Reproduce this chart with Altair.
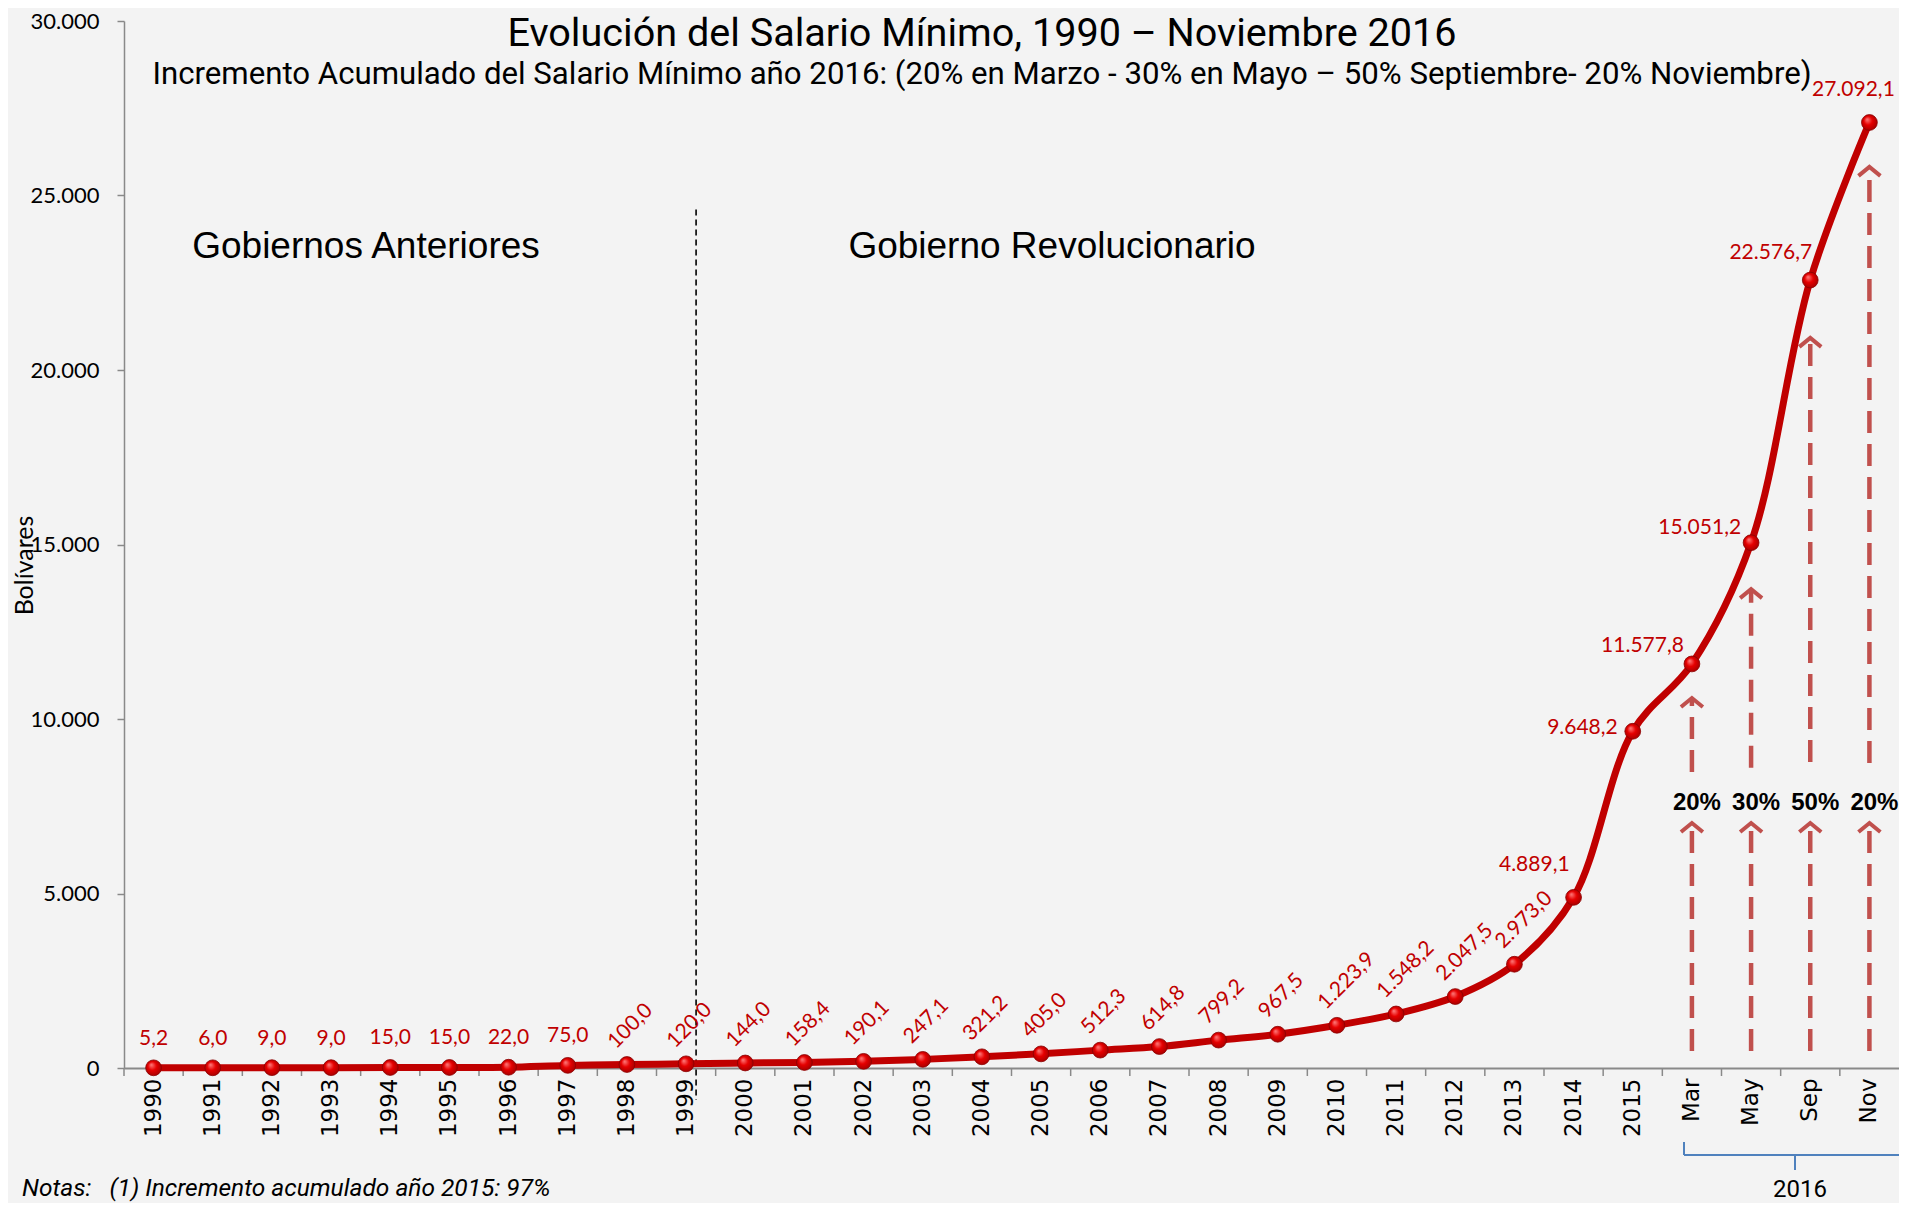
import altair as alt
import pandas as pd

# ---------------- data ----------------
categorias = ["1990", "1991", "1992", "1993", "1994", "1995", "1996", "1997", "1998", "1999",
              "2000", "2001", "2002", "2003", "2004", "2005", "2006", "2007", "2008", "2009",
              "2010", "2011", "2012", "2013", "2014", "2015", "Mar", "May", "Sep", "Nov"]
salario = [5.2, 6.0, 9.0, 9.0, 15.0, 15.0, 22.0, 75.0, 100.0, 120.0,
           144.0, 158.4, 190.1, 247.1, 321.2, 405.0, 512.3, 614.8, 799.2, 967.5,
           1223.9, 1548.2, 2047.5, 2973.0, 4889.1, 9648.2, 11577.8, 15051.2, 22576.7, 27092.1]

meses_2016 = ["Mar", "May", "Sep", "Nov"]
incrementos = ["20%", "30%", "50%", "20%"]
flecha_inf_desde = [490, 490, 490, 490]
flecha_inf_hasta = [7020, 7020, 7020, 7020]
flecha_sup_desde = [8480, 8600, 8770, 8740]
flecha_sup_hasta = [10600, 13720, 20920, 25820]
nivel_etiqueta_pct = [7590, 7590, 7590, 7590]

divisor_cat = ["1999"]
divisor_tope = [24600]

titulo = "Evolución del Salario Mínimo, 1990 – Noviembre 2016"
subtitulo = ("Incremento Acumulado del Salario Mínimo año 2016: (20% en Marzo - 30% en Mayo – "
             "50% Septiembre- 20% Noviembre)")
nota = "Notas:\u00a0\u00a0\u00a0(1) Incremento acumulado año 2015: 97%"


def fmt_es(v):
    s = f"{v:,.1f}"
    return s.replace(",", "X").replace(".", ",").replace("X", ".")


df = pd.DataFrame({
    "cat": categorias,
    "valor": salario,
    "etiqueta": [fmt_es(v) for v in salario],
    "i": list(range(len(categorias))),
})

flechas = pd.DataFrame({
    "cat": meses_2016,
    "inf0": flecha_inf_desde,
    "inf1": flecha_inf_hasta,
    "sup0": flecha_sup_desde,
    "sup1": flecha_sup_hasta,
    "pct": incrementos,
    "ylab": nivel_etiqueta_pct,
})

divisor = pd.DataFrame({"cat": divisor_cat, "tope": divisor_tope})

# ---------------- layout ----------------
W = 1775
H = 1047
RED = "#C00000"
ARROW = "#C0504D"
LABEL_FONT = "Lato"
NARROW = "Roboto"

xscale = alt.Scale(type="band", domain=categorias, paddingInner=0, paddingOuter=0)
yscale = alt.Scale(domain=[0, 30000], nice=False, zero=True)

xaxis = alt.Axis(title=None, labelAngle=270, labelFont="DejaVu Sans", labelFontSize=23,
                 labelColor="black", ticks=False, labelPadding=10, domainColor="#898989",
                 domainWidth=2, grid=False, labelOverlap=False)
yaxis = alt.Axis(title="Bolívares", values=[0, 5000, 10000, 15000, 20000, 25000, 30000],
                 labelExpr="replace(format(datum.value, ','), ',', '.')",
                 labelFont=LABEL_FONT, labelFontSize=22, labelColor="black",
                 tickSize=7, tickColor="#898989", tickWidth=1.5, labelPadding=18,
                 domainColor="#898989", domainWidth=1.5, grid=False,
                 titleFont=LABEL_FONT, titleFontSize=25, titleFontWeight="normal",
                 titleColor="black", titleAngle=270, titleX=-100, titleY=544,
                 titleAlign="center", titleBaseline="middle")


def X(field="cat", **kw):
    return alt.X(f"{field}:N", scale=xscale, axis=xaxis, sort=categorias, **kw)


def Y(field):
    return alt.Y(f"{field}:Q", scale=yscale, axis=yaxis)


base = alt.Chart(df)

linea = base.mark_line(color=RED, strokeWidth=7, interpolate="catmull-rom").encode(
    x=X(), y=Y("valor"))

puntos = base.mark_point(
    filled=True, size=250, opacity=1, stroke="#8a0000", strokeWidth=0.8,
    fill=alt.RadialGradient(gradient="radial", x1=0.35, y1=0.3, r1=0.0,
                            x2=0.5, y2=0.5, r2=0.6,
                            stops=[alt.GradientStop(color="#ff8080", offset=0),
                                   alt.GradientStop(color="#e60000", offset=0.45),
                                   alt.GradientStop(color="#990000", offset=1)])
).encode(x=X(), y=Y("valor"))

# ticks between categories on the x axis
marcas = base.mark_rule(color="#898989", strokeWidth=1.5).encode(
    x=X(bandPosition=0), y=alt.value(H), y2=alt.value(H + 8))

# labels
etq_h = base.transform_filter("datum.i <= 7").mark_text(
    font=LABEL_FONT, fontSize=21, color=RED, align="center", baseline="middle", yOffset=-29
).encode(x=X(), y=Y("valor"), text="etiqueta:N")

etq_rot = base.transform_filter("datum.i >= 8 && datum.i <= 23").mark_text(
    font=LABEL_FONT, fontSize=21, color=RED, align="left", baseline="alphabetic",
    angle=315, xOffset=-11, yOffset=-15
).encode(x=X(), y=Y("valor"), text="etiqueta:N")

ajustes = {"2014": (-4, -32, "right"), "2015": (-15, -3, "right"), "Mar": (-8, -18, "right"),
           "May": (-10, -15, "right"), "Sep": (2, -27, "right"), "Nov": (-16, -32, "center")}
etq_der = []
for c, (dx, dy, al) in ajustes.items():
    etq_der.append(base.transform_filter(f"datum.cat == '{c}'").mark_text(
        font=LABEL_FONT, fontSize=21, color=RED, align=al, baseline="middle",
        xOffset=dx, yOffset=dy
    ).encode(x=X(), y=Y("valor"), text="etiqueta:N"))

# divider
div = alt.Chart(divisor).mark_rule(color="black", strokeWidth=1.6, strokeDash=[6, 4],
                                   xOffset=10).encode(
    x=X(), y=Y("tope"), y2=alt.value(H + 32))

# arrows
fb = alt.Chart(flechas)
inf = fb.mark_rule(color=ARROW, strokeWidth=4.5, strokeDash=[22, 11]).encode(
    x=X(), y=Y("inf0"), y2="inf1:Q")
sup = fb.mark_rule(color=ARROW, strokeWidth=4.5, strokeDash=[22, 11]).encode(
    x=X(), y=Y("sup0"), y2="sup1:Q")
cabeza = "M-1,0.82L0,0L1,0.82"
punta_inf = fb.mark_point(shape=cabeza, size=480, filled=False, color=ARROW,
                          strokeWidth=4, opacity=1).encode(x=X(), y=Y("inf1"))
punta_sup = fb.mark_point(shape=cabeza, size=480, filled=False, color=ARROW,
                          strokeWidth=4, opacity=1).encode(x=X(), y=Y("sup1"))
pct = fb.mark_text(font="Liberation Sans", fontWeight="bold", fontSize=24, color="black",
                   align="center", baseline="middle", xOffset=5).encode(
    x=X(), y=Y("ylab"), text="pct:N")

# text annotations
def texto(t, x, y, **kw):
    return alt.Chart(pd.DataFrame({"t": [t]})).mark_text(**kw).encode(
        x=alt.value(x), y=alt.value(y), text="t:N")


t1 = texto(titulo, 858, 25, font=NARROW, fontSize=39.6, color="black", align="center",
           baseline="alphabetic")
t2 = texto(subtitulo, 858, 54, font=NARROW, fontSize=31.2, color="black", align="center",
           baseline="middle")
g1 = texto("Gobiernos Anteriores", 242, 226, font="Liberation Sans", fontSize=37,
           color="black", align="center", baseline="middle")
g2 = texto("Gobierno Revolucionario", 928, 226, font="Liberation Sans", fontSize=37,
           color="black", align="center", baseline="middle")
n1 = texto(nota, -102, 1175, font=NARROW, fontSize=24.5, fontStyle="italic", color="black",
           align="left", baseline="alphabetic")
a2016 = texto("2016", 1676, 1176, font=NARROW, fontSize=24, color="black", align="center",
              baseline="alphabetic")

BLUE = "#4F81BD"
def regla(x1, y1, x2, y2):
    return alt.Chart(pd.DataFrame({"k": [0]})).mark_rule(color=BLUE, strokeWidth=2).encode(
        x=alt.value(x1), y=alt.value(y1), x2=alt.value(x2), y2=alt.value(y2))


llave = [regla(1560, 1121, 1560, 1134), regla(1560, 1134, W, 1134),
         regla(1671, 1134, 1671, 1149)]

chart = alt.layer(
    marcas, div, inf, sup, punta_inf, punta_sup, pct, linea, puntos,
    etq_h, etq_rot, *etq_der, t1, t2, g1, g2, n1, a2016, *llave
).properties(
    width=W, height=H,
    autosize=alt.AutoSizeParams(type="none"),
    padding={"left": 116, "top": 13, "right": 0, "bottom": 135},
).configure(background="#f3f3f3").configure_view(stroke=None)

chart.save("out.html", embed_options={"renderer": "svg", "actions": False})
